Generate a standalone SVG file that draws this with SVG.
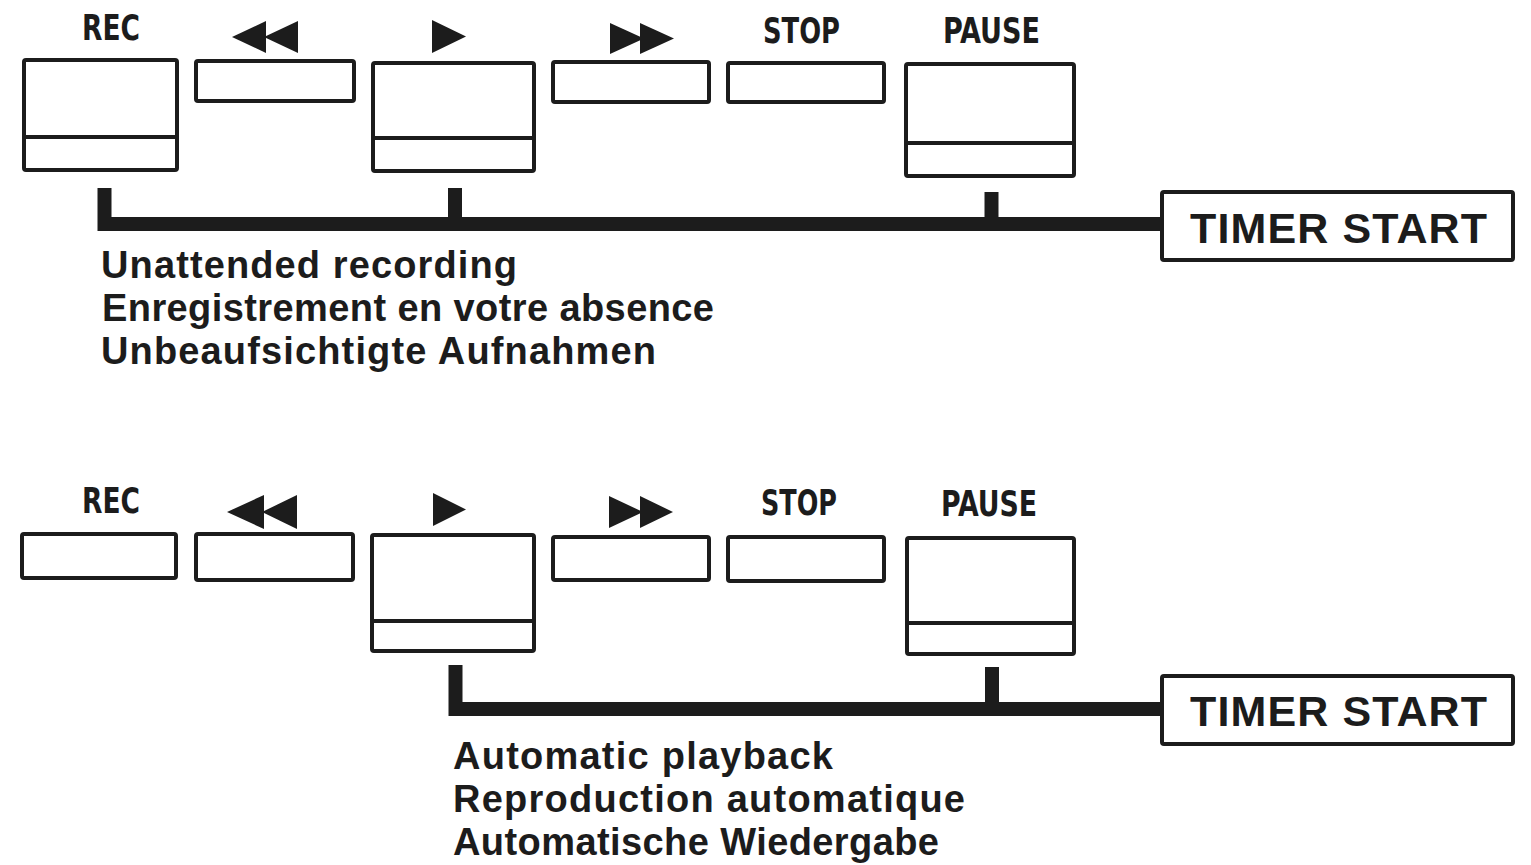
<svg xmlns="http://www.w3.org/2000/svg" width="1531" height="865" viewBox="0 0 1531 865">
<style>
.btn{fill:none;stroke:#1c1c1c;stroke-width:4;}
.div{stroke:#1c1c1c;stroke-width:4;}
.sym{fill:#1c1c1c;}
.lbl{font-family:"Liberation Sans Narrow","DejaVu Sans Condensed","Liberation Sans",sans-serif;font-weight:bold;font-size:35px;fill:#1c1c1c;}
.cap{font-family:"Liberation Sans",Arial,sans-serif;font-weight:bold;font-size:38px;fill:#1c1c1c;}
.ts{font-family:"Liberation Sans",Arial,sans-serif;font-weight:bold;font-size:43px;fill:#1c1c1c;}
.wire{fill:none;stroke:#1c1c1c;stroke-width:14;stroke-linejoin:miter;stroke-linecap:butt;}
</style>
<rect width="1531" height="865" fill="#ffffff"/>

<!-- Top panel -->
<g id="top-rec">
<text class="lbl" x="82" y="40" textLength="58" lengthAdjust="spacingAndGlyphs">REC</text>
<rect class="btn" x="24" y="60" width="153" height="110" rx="2"/>
<line class="div" x1="24" y1="137" x2="177" y2="137"/>
</g>
<g id="top-rew">
<polygon class="sym" points="232,37 266,21 266,53"/>
<polygon class="sym" points="264,37 298,21 298,53"/>
<rect class="btn" x="196" y="61" width="158" height="40" rx="2"/>
</g>
<g id="top-play">
<polygon class="sym" points="432,20 432,53 466,36.5"/>
<rect class="btn" x="373" y="63" width="161" height="108" rx="2"/>
<line class="div" x1="373" y1="138" x2="534" y2="138"/>
</g>
<g id="top-ff">
<polygon class="sym" points="610,23 610,54 644,38.5"/>
<polygon class="sym" points="640,23 640,54 674,38.5"/>
<rect class="btn" x="553" y="62" width="156" height="40" rx="2"/>
</g>
<g id="top-stop">
<text class="lbl" x="763" y="43" textLength="77" lengthAdjust="spacingAndGlyphs">STOP</text>
<rect class="btn" x="728" y="63" width="156" height="39" rx="2"/>
</g>
<g id="top-pause">
<text class="lbl" x="943" y="43" textLength="97" lengthAdjust="spacingAndGlyphs">PAUSE</text>
<rect class="btn" x="906" y="64" width="168" height="112" rx="2"/>
<line class="div" x1="906" y1="143" x2="1074" y2="143"/>
</g>
<g id="top-timer">
<rect class="btn" x="1162" y="192" width="351" height="68" rx="2"/>
<text class="ts" x="1190" y="243" textLength="297" lengthAdjust="spacing">TIMER START</text>
</g>
<g id="top-caption">
<text class="cap" x="101" y="278" textLength="416" lengthAdjust="spacing">Unattended recording</text>
<text class="cap" x="102" y="321" textLength="612" lengthAdjust="spacing">Enregistrement en votre absence</text>
<text class="cap" x="101" y="364" textLength="555" lengthAdjust="spacing">Unbeaufsichtigte Aufnahmen</text>
</g>

<!-- Bottom panel -->
<g id="bot-rec">
<text class="lbl" x="82" y="513" textLength="58" lengthAdjust="spacingAndGlyphs">REC</text>
<rect class="btn" x="22" y="534" width="154" height="44" rx="2"/>
</g>
<g id="bot-rew">
<polygon class="sym" points="227,512 264,495 264,529"/>
<polygon class="sym" points="262,512 297,495 297,529"/>
<rect class="btn" x="196" y="534" width="157" height="46" rx="2"/>
</g>
<g id="bot-play">
<polygon class="sym" points="433,493 433,526 466,509.5"/>
<rect class="btn" x="372" y="535" width="162" height="116" rx="2"/>
<line class="div" x1="372" y1="621" x2="534" y2="621"/>
</g>
<g id="bot-ff">
<polygon class="sym" points="609,496 609,528 643,512"/>
<polygon class="sym" points="640,496 640,528 673,512"/>
<rect class="btn" x="553" y="537" width="156" height="43" rx="2"/>
</g>
<g id="bot-stop">
<text class="lbl" x="761" y="515" textLength="76" lengthAdjust="spacingAndGlyphs">STOP</text>
<rect class="btn" x="728" y="537" width="156" height="44" rx="2"/>
</g>
<g id="bot-pause">
<text class="lbl" x="941" y="516" textLength="96" lengthAdjust="spacingAndGlyphs">PAUSE</text>
<rect class="btn" x="907" y="538" width="167" height="116" rx="2"/>
<line class="div" x1="907" y1="623" x2="1074" y2="623"/>
</g>
<g id="bot-timer">
<rect class="btn" x="1162" y="676" width="351" height="68" rx="2"/>
<text class="ts" x="1190" y="726" textLength="297" lengthAdjust="spacing">TIMER START</text>
</g>
<g id="bot-caption">
<text class="cap" x="453" y="769" textLength="380" lengthAdjust="spacing">Automatic playback</text>
<text class="cap" x="453" y="812" textLength="512" lengthAdjust="spacing">Reproduction automatique</text>
<text class="cap" x="453" y="855" textLength="486" lengthAdjust="spacing">Automatische Wiedergabe</text>
</g>

<g id="connectors">
<path class="wire" d="M104.5,188 V224 H1162"/>
<path class="wire" d="M455,188 V224"/>
<path class="wire" d="M991.5,192 V224"/>
<path class="wire" d="M455.5,665 V709 H1162"/>
<path class="wire" d="M992,667 V709"/>
</g>
</svg>
